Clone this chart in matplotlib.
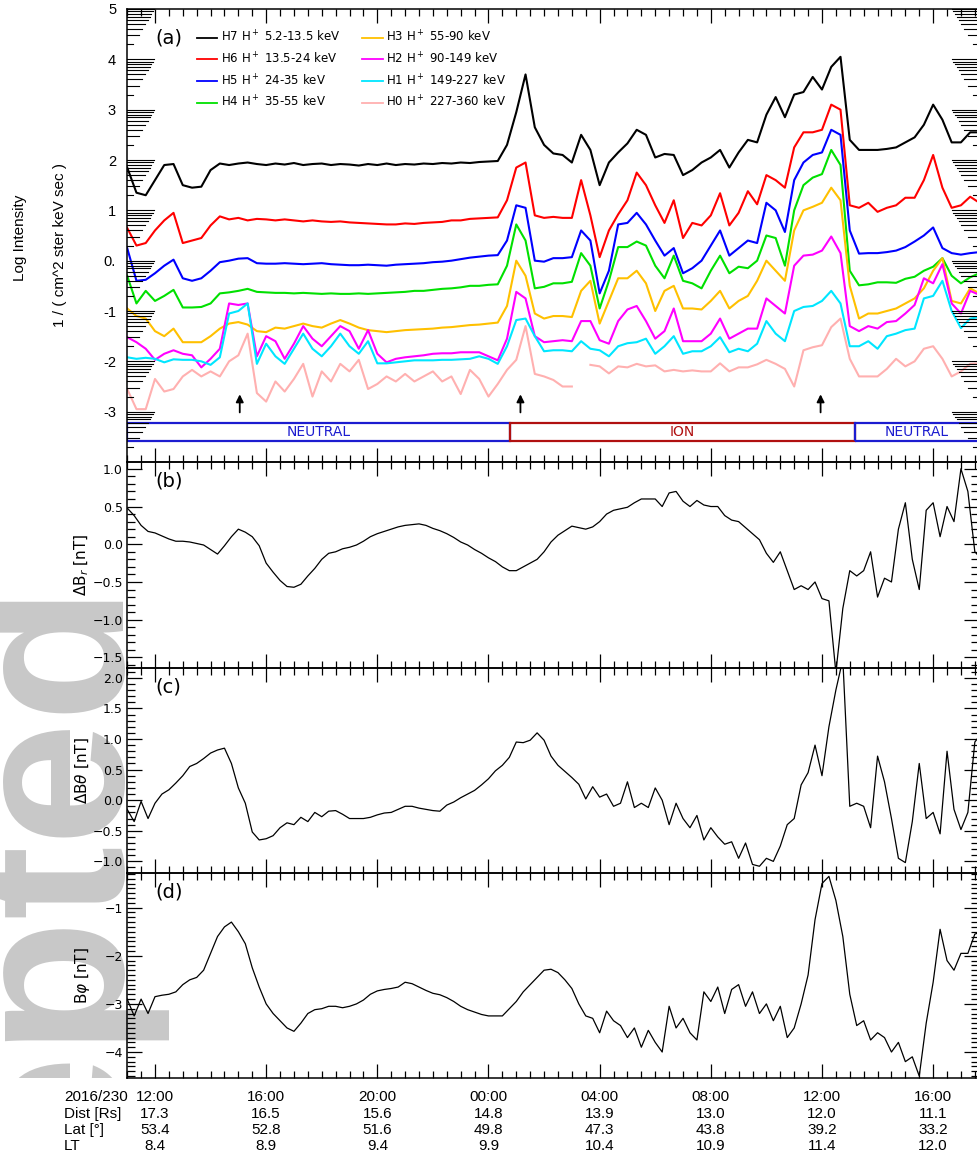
import numpy as np
import matplotlib
matplotlib.use('Agg')
import matplotlib.pyplot as plt
from matplotlib.patches import Rectangle
from matplotlib.ticker import MultipleLocator
from matplotlib.transforms import Bbox, TransformedBbox
from matplotlib import font_manager

nan = np.nan

# ---- panel (a): log intensity, 20 min samples from 11:00 (day 230) ----
t_a = 11 + np.arange(93) / 3.0
h7 = [1.85, 1.35, 1.3, 1.6, 1.9, 1.92, 1.5, 1.45, 1.47, 1.8,
      1.93, 1.9, 1.93, 1.95, 1.92, 1.9, 1.93, 1.91, 1.94, 1.9,
      1.92, 1.93, 1.9, 1.92, 1.91, 1.89, 1.92, 1.9, 1.93, 1.9,
      1.92, 1.91, 1.93, 1.92, 1.94, 1.93, 1.95, 1.94, 1.96, 1.97,
      1.98, 2.3, 2.95, 3.7, 2.65, 2.3, 2.13, 2.1, 1.95, 2.5,
      2.2, 1.5, 1.95, 2.15, 2.33, 2.6, 2.5, 2.05, 2.12, 2.1,
      1.7, 1.8, 1.95, 2.05, 2.2, 1.85, 2.15, 2.4, 2.35, 2.9,
      3.25, 2.85, 3.3, 3.35, 3.65, 3.4, 3.85, 4.05, 2.4, 2.2,
      2.2, 2.2, 2.22, 2.25, 2.35, 2.45, 2.7, 3.1, 2.8, 2.35,
      2.35, 2.55, 2.55]
h6 = [0.65, 0.3, 0.35, 0.6, 0.8, 0.95, 0.35, 0.4, 0.45, 0.7,
      0.88, 0.82, 0.85, 0.8, 0.83, 0.82, 0.8, 0.82, 0.8, 0.78,
      0.8, 0.78, 0.77, 0.78, 0.76, 0.75, 0.74, 0.73, 0.72, 0.72,
      0.74, 0.73, 0.75, 0.76, 0.77, 0.8, 0.8, 0.83, 0.84, 0.85,
      0.86, 1.2, 1.85, 1.95, 0.9, 0.85, 0.87, 0.85, 0.85, 1.6,
      0.9, 0.07, 0.6, 0.92, 1.2, 1.75, 1.5, 1.1, 0.75, 1.2,
      0.45, 0.75, 0.7, 0.9, 1.34, 0.7, 0.95, 1.38, 1.12, 1.7,
      1.6, 1.45, 2.25, 2.55, 2.55, 2.6, 3.1, 3.0, 1.1, 1.05,
      1.15, 0.97, 1.05, 1.1, 1.25, 1.25, 1.6, 2.1, 1.45, 1.05,
      1.1, 1.27, 1.15]
h5 = [0.25, -0.4, -0.38, -0.25, -0.1, 0.02, -0.35, -0.4, -0.35, -0.2,
      -0.03, 0.0, 0.04, 0.05, -0.05, -0.06, -0.06, -0.05, -0.06, -0.07,
      -0.06, -0.05, -0.07, -0.08, -0.09, -0.09, -0.08, -0.09, -0.1, -0.08,
      -0.07, -0.06, -0.05, -0.03, -0.02, 0.0, 0.03, 0.06, 0.08, 0.1,
      0.11, 0.4, 1.1, 1.05, 0.0, -0.02, 0.05, 0.05, 0.07, 0.6,
      0.4, -0.65, -0.2, 0.72, 0.75, 0.95, 0.72, 0.4, 0.1, 0.25,
      -0.25, -0.15, 0.0, 0.3, 0.6, 0.1, 0.25, 0.4, 0.35, 1.15,
      1.0, 0.57, 1.6, 1.95, 2.1, 2.15, 2.6, 2.5, 0.6, 0.14,
      0.15, 0.15, 0.17, 0.2, 0.27, 0.38, 0.5, 0.66, 0.25, 0.15,
      0.12, 0.15, 0.17]
h4 = [-0.3, -0.85, -0.6, -0.8, -0.7, -0.58, -0.93, -0.93, -0.92, -0.85,
      -0.65, -0.63, -0.6, -0.56, -0.62, -0.63, -0.64, -0.64, -0.65, -0.64,
      -0.65, -0.66, -0.65, -0.66, -0.66, -0.65, -0.66, -0.65, -0.64, -0.63,
      -0.62, -0.6, -0.6, -0.58, -0.56, -0.55, -0.53, -0.5, -0.5, -0.48,
      -0.47, -0.1, 0.72, 0.4, -0.55, -0.52, -0.45, -0.45, -0.42, 0.15,
      -0.1, -0.95, -0.4, 0.27, 0.27, 0.38, 0.3, -0.1, -0.35, 0.1,
      -0.4, -0.45, -0.55, -0.2, 0.1, -0.25, -0.12, -0.15, 0.0, 0.5,
      0.45, -0.1, 1.0, 1.5, 1.65, 1.72, 2.2, 1.9, -0.2, -0.49,
      -0.47, -0.43, -0.43, -0.44, -0.36, -0.32, -0.2, -0.12, 0.05, -0.3,
      -0.45, -0.33, -0.25]
h3 = [-0.95, -1.1, -1.15, -1.4, -1.5, -1.35, -1.62, -1.62, -1.62, -1.5,
      -1.35, -1.25, -1.22, -1.27, -1.4, -1.42, -1.33, -1.35, -1.3, -1.25,
      -1.3, -1.33, -1.25, -1.18, -1.25, -1.33, -1.38, -1.4, -1.42, -1.4,
      -1.38, -1.37, -1.36, -1.35, -1.33, -1.32, -1.3, -1.28, -1.27, -1.25,
      -1.23, -0.9, 0.0, -0.3, -1.05, -1.15, -1.1, -1.1, -1.12, -0.6,
      -0.4, -1.25, -0.8, -0.35, -0.35, -0.2, -0.45, -1.0, -0.6, -0.5,
      -0.95, -0.95, -0.97, -0.8, -0.6, -0.95, -0.8, -0.7, -0.4, 0.0,
      -0.2, -0.4, 0.6, 1.0, 1.07, 1.15, 1.45, 1.2, -0.5, -1.15,
      -1.05, -1.05, -1.0, -0.95, -0.85, -0.75, -0.55, -0.2, 0.05, -0.8,
      -0.85, -0.55, -0.65]
h2 = [-1.52, -1.62, -1.75, -1.97, -1.85, -1.78, -1.85, -1.88, -2.12, -1.95,
      -1.75, -0.85, -0.88, -0.85, -1.9, -1.5, -1.6, -1.95, -1.65, -1.3,
      -1.55, -1.7, -1.5, -1.3, -1.4, -1.75, -1.38, -1.85, -2.02, -1.95,
      -1.92, -1.9, -1.88, -1.85, -1.84, -1.84, -1.82, -1.82, -1.82, -1.9,
      -1.98, -1.55, -0.62, -0.75, -1.5, -1.62, -1.6, -1.58, -1.6, -1.2,
      -1.2, -1.58, -1.65, -1.2, -0.97, -0.9, -1.2, -1.55, -1.4, -0.95,
      -1.6, -1.6, -1.6, -1.45, -1.15, -1.55, -1.45, -1.35, -1.35, -0.75,
      -0.9, -1.05, -0.1, 0.1, 0.12, 0.2, 0.48, 0.15, -1.3, -1.4,
      -1.3, -1.35, -1.22, -1.2, -1.05, -0.88, -0.35, -0.45, -0.07, -0.85,
      -1.05, -0.6, -0.68]
h1 = [-1.92, -1.95, -1.93, -1.95, -2.02, -1.96, -1.97, -1.97, -2.0, -2.07,
      -1.92, -1.05, -1.0, -0.85, -2.05, -1.65, -1.9, -2.05, -1.75, -1.45,
      -1.75, -1.9, -1.7, -1.45, -1.7, -1.85, -1.6, -2.04, -2.04, -2.02,
      -2.0, -1.98, -1.98, -1.98, -1.97, -1.97, -1.96, -1.95, -1.9, -1.95,
      -2.05, -1.7, -1.18, -1.15, -1.5, -1.8, -1.78, -1.78, -1.8, -1.6,
      -1.75, -1.78, -1.9, -1.7, -1.64, -1.62, -1.55, -1.85, -1.7, -1.5,
      -1.85, -1.8, -1.8, -1.7, -1.52, -1.82, -1.75, -1.8, -1.65, -1.2,
      -1.45, -1.6, -1.0, -0.92, -0.9, -0.8, -0.6, -0.85, -1.7, -1.7,
      -1.6, -1.75, -1.5, -1.45, -1.38, -1.35, -0.75, -0.7, -0.4, -1.0,
      -1.34, -1.15, -1.12]
h0 = [-2.55, -2.95, -2.95, -2.35, -2.6, -2.55, -2.3, -2.17, -2.3, -2.2,
      -2.3, -2.0, -1.88, -1.45, -2.63, -2.8, -2.4, -2.6, -2.35, -2.05,
      -2.7, -2.2, -2.4, -2.05, -2.2, -1.97, -2.55, -2.45, -2.3, -2.4,
      -2.25, -2.4, -2.3, -2.2, -2.4, -2.3, -2.65, -2.17, -2.35, -2.7,
      -2.45, -2.17, -1.97, -1.3, -2.25, -2.3, -2.37, -2.5, -2.5, nan,
      -2.07, -2.1, -2.24, -2.1, -2.12, -2.05, -2.1, -2.08, -2.2, -2.17,
      -2.2, -2.18, -2.2, -2.2, -2.04, -2.2, -2.12, -2.12, -2.06, -1.97,
      -2.05, -2.15, -2.5, -1.78, -1.72, -1.68, -1.32, -1.15, -1.95, -2.3,
      -2.3, -2.3, -2.15, -1.95, -2.1, -2.0, -1.75, -1.7, -1.95, -2.3,
      -2.2, -2.05, -2.04]

channels = ['H7 H$^+$ 5.2-13.5 keV', 'H6 H$^+$ 13.5-24 keV', 'H5 H$^+$ 24-35 keV',
            'H4 H$^+$ 35-55 keV', 'H3 H$^+$ 55-90 keV', 'H2 H$^+$ 90-149 keV',
            'H1 H$^+$ 149-227 keV', 'H0 H$^+$ 227-360 keV']
colors = ['black', '#ff0000', '#0000ff', '#00e000', '#ffc000', '#ff00ff', '#00e6ff', '#ffb0b0']

arrow_t = [15.05, 25.15, 35.95]
region_names = ['NEUTRAL', 'ION', 'NEUTRAL']
region_edges = [11.0, 24.77, 37.19, 41.65]
region_colors = ['#1c1cd0', '#b01010', '#1c1cd0']

# ---- panels (b)-(d): magnetic field, 15 min samples ----
t_b = 11 + np.arange(124) * 0.25
dbr = [0.48, 0.38, 0.25, 0.17, 0.15, 0.11, 0.07, 0.04, 0.04, 0.03,
       0.01, -0.01, -0.07, -0.13, -0.02, 0.1, 0.2, 0.16, 0.1, -0.02,
       -0.25, -0.37, -0.48, -0.56, -0.57, -0.53, -0.42, -0.32, -0.2, -0.12,
       -0.1, -0.06, -0.04, -0.01, 0.04, 0.1, 0.14, 0.17, 0.2, 0.23,
       0.25, 0.26, 0.27, 0.25, 0.21, 0.18, 0.14, 0.09, 0.03, -0.01,
       -0.07, -0.12, -0.18, -0.23, -0.3, -0.35, -0.35, -0.3, -0.25, -0.2,
       -0.1, 0.03, 0.12, 0.18, 0.24, 0.22, 0.2, 0.23, 0.3, 0.4,
       0.45, 0.47, 0.49, 0.55, 0.6, 0.6, 0.6, 0.5, 0.68, 0.7,
       0.57, 0.5, 0.58, 0.52, 0.5, 0.5, 0.38, 0.32, 0.3, 0.22,
       0.14, 0.06, -0.12, -0.24, -0.1, -0.35, -0.6, -0.55, -0.6, -0.5,
       -0.72, -0.75, -1.7, -0.85, -0.35, -0.42, -0.35, -0.1, -0.7, -0.45,
       -0.5, 0.2, 0.55, -0.2, -0.6, 0.45, 0.55, 0.1, 0.5, 0.3,
       1.0, 0.7, -0.1, -0.2]
dbt = [-0.15, -0.35, -0.02, -0.3, -0.05, 0.1, 0.17, 0.28, 0.4, 0.55,
       0.6, 0.68, 0.77, 0.82, 0.85, 0.6, 0.2, -0.05, -0.52, -0.65,
       -0.63, -0.58, -0.45, -0.37, -0.4, -0.28, -0.35, -0.2, -0.27, -0.18,
       -0.17, -0.23, -0.3, -0.3, -0.3, -0.28, -0.24, -0.21, -0.2, -0.15,
       -0.1, -0.1, -0.13, -0.15, -0.17, -0.18, -0.08, -0.03, 0.04, 0.1,
       0.16, 0.25, 0.35, 0.48, 0.57, 0.7, 0.95, 0.94, 0.98, 1.1,
       0.98, 0.72, 0.57, 0.47, 0.37, 0.26, 0.02, 0.22, 0.05, 0.1,
       -0.1, -0.05, 0.3, -0.12, -0.05, -0.12, 0.2, 0.0, -0.4, -0.05,
       -0.3, -0.45, -0.25, -0.65, -0.45, -0.6, -0.72, -0.68, -0.95, -0.7,
       -1.05, -1.08, -0.95, -1.0, -0.75, -0.4, -0.3, 0.25, 0.45, 0.9,
       0.4, 1.2, 1.8, 2.3, -0.1, -0.05, -0.1, -0.45, 0.72, 0.3,
       -0.3, -0.95, -1.02, -0.35, 0.6, -0.3, -0.2, -0.55, 0.8, -0.15,
       -0.48, -0.2, 0.95, 1.1]
bphi = [-2.9, -3.25, -2.9, -3.2, -2.85, -2.82, -2.8, -2.75, -2.6, -2.5,
        -2.45, -2.3, -1.95, -1.6, -1.4, -1.3, -1.5, -1.75, -2.25, -2.65,
        -3.0, -3.2, -3.35, -3.5, -3.57, -3.4, -3.2, -3.12, -3.1, -3.05,
        -3.05, -3.08, -3.05, -3.0, -2.92, -2.8, -2.73, -2.7, -2.68, -2.65,
        -2.55, -2.58, -2.65, -2.72, -2.78, -2.81, -2.87, -2.95, -3.05, -3.12,
        -3.17, -3.22, -3.25, -3.25, -3.25, -3.1, -2.95, -2.75, -2.6, -2.45,
        -2.3, -2.28, -2.35, -2.5, -2.68, -3.0, -3.25, -3.3, -3.6, -3.15,
        -3.35, -3.45, -3.7, -3.5, -3.9, -3.55, -3.8, -4.0, -3.05, -3.5,
        -3.3, -3.6, -3.75, -2.75, -2.95, -2.65, -3.2, -2.7, -2.6, -3.05,
        -2.75, -3.2, -3.0, -3.35, -3.05, -3.7, -3.5, -3.0, -2.4, -1.25,
        -0.5, -0.35, -0.85, -1.6, -2.8, -3.45, -3.35, -3.75, -3.6, -3.7,
        -4.0, -3.8, -4.2, -4.1, -4.5, -3.4, -2.55, -1.45, -2.1, -2.3,
        -1.95, -1.95, -1.55, -1.5]

# ---- bottom annotation rows ----
tick_hours = [12, 16, 20, 24, 28, 32, 36, 40]
time_labels = ['12:00', '16:00', '20:00', '00:00', '04:00', '08:00', '12:00', '16:00']
dist = ['17.3', '16.5', '15.6', '14.8', '13.9', '13.0', '12.0', '11.1']
lat = ['53.4', '52.8', '51.6', '49.8', '47.3', '43.8', '39.2', '33.2']
lt = ['8.4', '8.9', '9.4', '9.9', '10.4', '10.9', '11.4', '12.0']
row_heads = ['2016/230', 'Dist [Rs]', 'Lat [°]', 'LT']

W, H = 977, 1158
X0, X1 = 127.2, 979.0
XLIM = (11.0, 41.65)

fig = plt.figure(figsize=(W / 100, H / 100), dpi=100)


def box(ytop, ybot):
    return [X0 / W, 1 - ybot / H, (X1 - X0) / W, (ybot - ytop) / H]


ax_a = fig.add_axes(box(9, 462))
ax_b = fig.add_axes(box(462, 668))
ax_c = fig.add_axes(box(668, 873))
ax_d = fig.add_axes(box(873, 1078))
axes = [ax_a, ax_b, ax_c, ax_d]

# watermark peeking out in the left margin
try:
    font_manager.findfont('Liberation Sans', fallback_to_default=False)
    sans = 'Liberation Sans'
except Exception:
    sans = 'DejaVu Sans'
wm = fig.text(118 / W, 1 - 580 / H, 'Accepted', rotation=90, rotation_mode='anchor',
              ha='right', va='baseline', fontsize=160, fontweight='bold',
              family=sans, color='#c8c8c8', zorder=-5)
wm.set_clip_box(TransformedBbox(Bbox([[0, 1 - 1078 / H], [0.3, 1 - 462 / H]]), fig.transFigure))
wm.set_clip_on(True)

for ax in axes:
    ax.set_facecolor('none')
    ax.set_xlim(*XLIM)
    ax.xaxis.set_major_locator(MultipleLocator(4))
    ax.xaxis.set_minor_locator(MultipleLocator(0.5))
    ax.tick_params(axis='x', which='both', direction='in', top=True, bottom=True,
                   labelbottom=False, width=0.9)
    ax.tick_params(axis='x', which='major', length=10)
    ax.tick_params(axis='x', which='minor', length=5)
    for sp in ax.spines.values():
        sp.set_linewidth(1.1)

# ---- panel (a) ----
series = [h7, h6, h5, h4, h3, h2, h1, h0]
for vals, lab, col in zip(series, channels, colors):
    ax_a.plot(t_a, vals, color=col, lw=1.5, label=lab)
ax_a.set_ylim(-4, 5)
ax_a.set_yticks(range(-3, 6))
ax_a.set_yticklabels(['-3', '-2', '-1', '0.', '1', '2', '3', '4', '5'], family=sans, fontsize=10.5)
ax_a.tick_params(axis='y', length=0, pad=8)

axw = X1 - X0
tr = ax_a.get_yaxis_transform()
for n in range(-3, 6):
    levels = [n] + [n - 1 + np.log10(k) for k in range(2, 10)]
    lengths = [27] + [30 * np.log10(k) - 3 for k in range(2, 10)]
    for y, L in zip(levels, lengths):
        ax_a.plot([0, L / axw], [y, y], transform=tr, color='k', lw=0.8, clip_on=False)
        ax_a.plot([1 - L / axw, 1], [y, y], transform=tr, color='k', lw=0.8, clip_on=False)

leg = ax_a.legend(loc='upper left', bbox_to_anchor=(0.082, 0.955), ncol=2, frameon=False,
                  fontsize=8.5, handlelength=1.7, handletextpad=0.3, columnspacing=1.9,
                  labelspacing=0.55, borderpad=0, borderaxespad=0)
for ln in leg.get_lines():
    ln.set_linewidth(1.3)
ax_a.text(0.033, 1 - 29.5 / 453, '(a)', transform=ax_a.transAxes, fontsize=14, va='center')

for t in arrow_t:
    ax_a.annotate('', xy=(t, -2.6), xytext=(t, -3.07),
                  arrowprops=dict(arrowstyle='-|>', color='k', lw=1.3, mutation_scale=11))

for name, a, b, col in zip(region_names, region_edges[:-1], region_edges[1:], region_colors):
    ax_a.add_patch(Rectangle((a, -3.575), b - a, 0.345, fill=False, edgecolor=col, lw=1.6))
    ax_a.text((a + b) / 2, -3.405, name, color=col, fontsize=10, ha='center', va='center')

# ---- panels (b)-(d) ----
mag = [(ax_b, dbr, (-1.64, 1.09), 0.5, r'$\Delta$B$_r$ [nT]', '(b)', 206),
       (ax_c, dbt, (-1.19, 2.16), 0.5, r'$\Delta$B$\theta$ [nT]', '(c)', 205),
       (ax_d, bphi, (-4.54, -0.28), 1.0, r'B$\varphi$ [nT]', '(d)', 205)]
for ax, vals, ylim, step, ylab, tag, hpx in mag:
    ax.plot(t_b, vals, color='k', lw=0.9)
    ax.set_ylim(*ylim)
    ax.yaxis.set_major_locator(MultipleLocator(step))
    ax.yaxis.set_minor_locator(MultipleLocator(0.1))
    ax.tick_params(axis='y', which='both', direction='in', left=True, right=True,
                   width=0.9, labelsize=9, pad=3)
    ax.tick_params(axis='y', which='major', length=11)
    ax.tick_params(axis='y', which='minor', length=5.5)
    ax.text(0.033, 1 - 19 / hpx, tag, transform=ax.transAxes, fontsize=14, va='center')
    pos = ax.get_position()
    fig.text(82 / W, pos.y0 + pos.height / 2, ylab, rotation=90, ha='center', va='center',
             fontsize=11)

fig.text(20 / W, 1 - 238 / H, 'Log Intensity', rotation=90, ha='center', va='center',
         family=sans, fontsize=11)
fig.text(60 / W, 1 - 245 / H, '1 / ( cm^2 ster keV sec )', rotation=90, ha='center',
         va='center', family=sans, fontsize=11)

# ---- ephemeris rows under the bottom axis ----
try:
    font_manager.findfont('Liberation Sans Narrow', fallback_to_default=False)
    narrow, nsize = 'Liberation Sans Narrow', 13
except Exception:
    narrow, nsize = sans, 11
rows = [time_labels, dist, lat, lt]
row_y = [1097, 1114, 1130, 1146]
for head, vals, ypx in zip(row_heads, rows, row_y):
    yf = 1 - ypx / H
    fig.text(64 / W, yf, head, ha='left', va='center', family=narrow, fontsize=nsize)
    for hr, v in zip(tick_hours, vals):
        xf = (X0 + (hr - XLIM[0]) / (XLIM[1] - XLIM[0]) * (X1 - X0)) / W
        fig.text(xf, yf, v, ha='center', va='center', family=narrow, fontsize=nsize)

fig.savefig('out.png', dpi=100)
